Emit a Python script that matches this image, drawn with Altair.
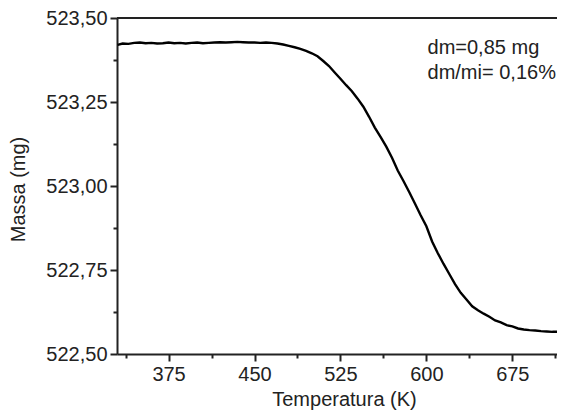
import altair as alt
import pandas as pd

# Temperature (K) and mass (mg)
temperature = [330.5, 335, 340, 345, 350, 355, 360, 365, 370, 375, 380, 385, 390, 395,
               400, 405, 410, 415, 420, 425, 430, 435, 440, 445, 450, 455, 460, 465,
               470, 475, 480, 485, 490, 495, 500, 505, 510, 515, 520, 525, 530, 535,
               540, 545, 550, 555, 560, 565, 570, 575, 580, 585, 590, 595, 600, 605,
               610, 615, 620, 625, 630, 635, 640, 645, 650, 655, 660, 665, 670, 675,
               680, 685, 690, 695, 700, 705, 710, 715, 721]
mass = [523.420, 523.424, 523.423, 523.426, 523.427, 523.425, 523.426, 523.424, 523.425,
        523.427, 523.425, 523.426, 523.424, 523.426, 523.427, 523.425, 523.426, 523.427,
        523.428, 523.427, 523.428, 523.429, 523.428, 523.427, 523.427, 523.426, 523.427,
        523.426, 523.424, 523.421, 523.417, 523.413, 523.408, 523.402, 523.395, 523.386,
        523.372, 523.357, 523.338, 523.319, 523.300, 523.282, 523.260, 523.236, 523.206,
        523.174, 523.146, 523.117, 523.084, 523.046, 523.015, 522.982, 522.948, 522.913,
        522.880, 522.835, 522.800, 522.768, 522.738, 522.708, 522.682, 522.662, 522.642,
        522.630, 522.620, 522.611, 522.600, 522.594, 522.586, 522.582, 522.576, 522.573,
        522.571, 522.570, 522.568, 522.567, 522.566, 522.566, 522.565]

x_major = [375, 450, 525, 600, 675]
x_minor = [337.5, 412.5, 487.5, 562.5, 637.5, 712.5]
y_major = [522.50, 522.75, 523.00, 523.25, 523.50]
y_minor = [522.625, 522.875, 523.125, 523.375]

notes = ["dm=0,85 mg", "dm/mi= 0,16%"]
note_x = [601, 601]
note_y = [523.393, 523.319]

df = pd.DataFrame({"T": temperature, "m": mass})
notes_df = pd.DataFrame({"text": notes, "x": note_x, "y": note_y})
one_df = pd.DataFrame({"a": [0]})

W, H = 440, 336
xs = alt.Scale(domain=[330, 714], nice=False, zero=False)
ys = alt.Scale(domain=[522.5, 523.5], nice=False, zero=False)
label_expr = "replace(format(datum.value, '.2f'), '.', ',')"

line = alt.Chart(df).mark_line(color="black", strokeWidth=2.4, clip=True).encode(
    x=alt.X("T:Q", scale=xs,
            axis=alt.Axis(values=x_major, title="Temperatura (K)", orient="bottom",
                          tickSize=7, labelPadding=3, titlePadding=5, grid=False,
                          titleX=227, format="d")),
    y=alt.Y("m:Q", scale=ys,
            axis=alt.Axis(values=y_major, title="Massa (mg)", orient="left",
                          tickSize=7, labelPadding=3, labelExpr=label_expr,
                          titlePadding=17, titleY=171, grid=False)),
)

minor = alt.Chart(df).mark_point(opacity=0).encode(
    x=alt.X("T:Q", scale=xs,
            axis=alt.Axis(values=x_minor, orient="bottom", labels=False, title="",
                          tickSize=4, domain=False, grid=False)),
    y=alt.Y("m:Q", scale=ys,
            axis=alt.Axis(values=y_minor, orient="left", labels=False, title="",
                          tickSize=4, domain=False, grid=False)),
)

top_border = alt.Chart(one_df).mark_rule(color="#222", strokeWidth=2).encode(
    x=alt.value(0), x2=alt.value(W), y=alt.value(0)
)

text = alt.Chart(notes_df).mark_text(
    align="left", baseline="alphabetic", fontSize=20, font="Liberation Sans", color="#222"
).encode(
    x=alt.X("x:Q", scale=xs, axis=None),
    y=alt.Y("y:Q", scale=ys, axis=None),
    text="text:N",
)

chart = alt.layer(line, minor, top_border, text).resolve_axis(
    x="independent", y="independent"
).properties(
    width=W, height=H,
    autosize=alt.AutoSizeParams(type="none"),
    padding={"left": 109, "top": 10, "right": 0, "bottom": 58},
).configure_axis(
    labelFont="Liberation Sans", labelFontSize=20, labelColor="#222",
    titleFont="Liberation Sans", titleFontSize=20, titleColor="#222",
    titleFontWeight="normal",
    domainColor="#222", tickColor="#222", domainWidth=2, tickWidth=2,
).configure_view(strokeWidth=0)

chart.save("out.html", embed_options={"renderer": "svg", "actions": False})
